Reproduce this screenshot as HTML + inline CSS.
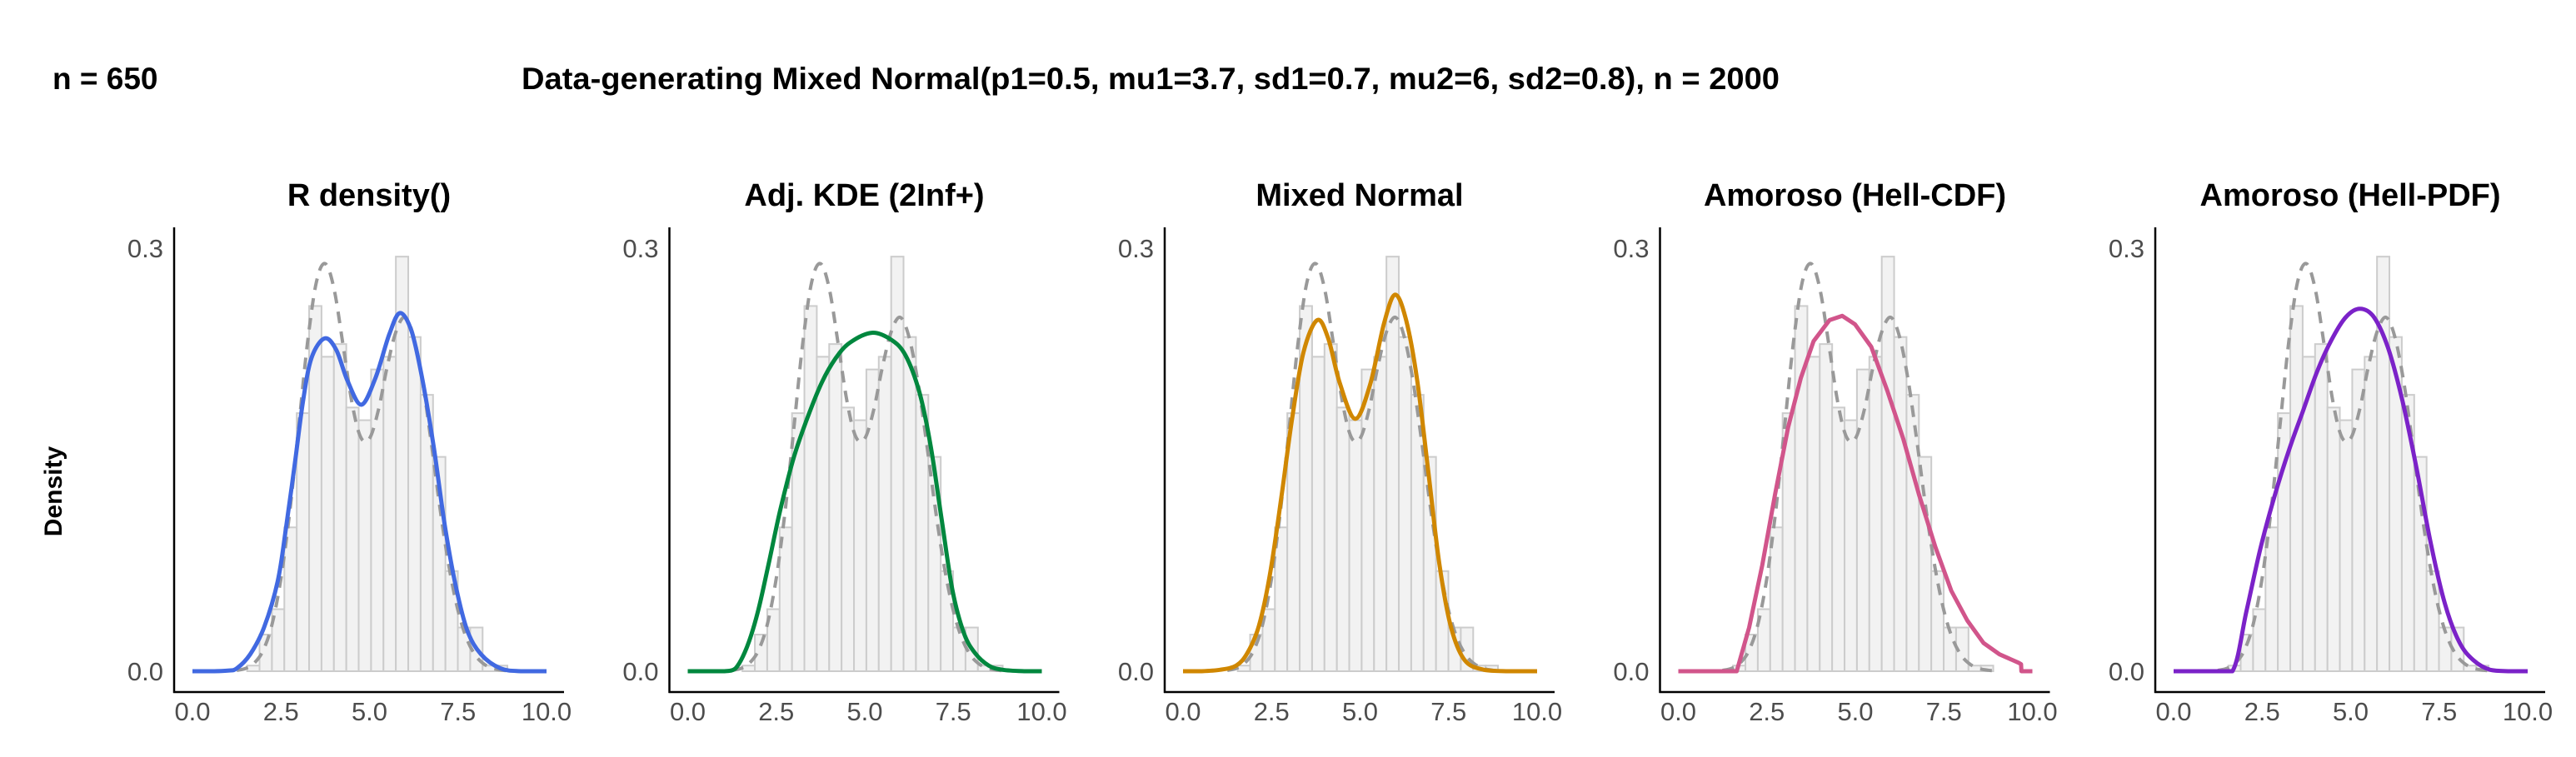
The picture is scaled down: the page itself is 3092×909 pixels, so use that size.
<!DOCTYPE html>
<html><head><meta charset="utf-8"><style>
html,body{margin:0;padding:0;background:#fff;}
svg{display:block;font-family:"Liberation Sans",Arial,sans-serif;}
</style></head><body>
<svg id="chart" width="3092" height="909" viewBox="0 0 3092 909" xmlns="http://www.w3.org/2000/svg">
<text x="63" y="107" font-size="37" font-weight="bold">n = 650</text>
<text x="626" y="107" font-size="37" font-weight="bold" textLength="1510" lengthAdjust="spacingAndGlyphs">Data-generating Mixed Normal(p1=0.5, mu1=3.7, sd1=0.7, mu2=6, sd2=0.8), n = 2000</text>
<text transform="translate(74,590) rotate(-90)" text-anchor="middle" font-size="30" font-weight="bold">Density</text>
<g id="panels"></g>
</svg>
<script>
// ---- data ----
const panelTitles = ["R density()", "Adj. KDE (2Inf+)", "Mixed Normal", "Amoroso (Hell-CDF)", "Amoroso (Hell-PDF)"];
const panelColors = ["#4169e1", "#00873e", "#d08700", "#d1558b", "#7b22c8"];
const xTicks = [0, 2.5, 5, 7.5, 10];
const xTickLabels = ["0.0", "2.5", "5.0", "7.5", "10.0"];
const yTicks = [0, 0.3];
const yTickLabels = ["0.0", "0.3"];
const binStart = 1.545;
const binWidth = 0.35;
const histDensity = [0.004,0.026,0.044,0.102,0.183,0.259,0.223,0.232,0.187,0.178,0.214,0.223,0.294,0.237,0.196,0.152,0.071,0.031,0.031,0.004,0.004];
const trueX = [1.25,1.5,1.75,2,2.25,2.5,2.75,3,3.25,3.5,3.75,4,4.25,4.5,4.75,5,5.25,5.5,5.75,6,6.25,6.5,6.75,7,7.25,7.5,7.75,8,8.25,8.5,8.75,9];
const trueY = [0.0006,0.002,0.0059,0.0149,0.0334,0.066,0.1135,0.173,0.233,0.276,0.289,0.271,0.232,0.191,0.166,0.165,0.185,0.216,0.241,0.251,0.237,0.205,0.161,0.114,0.0735,0.043,0.0228,0.011,0.0048,0.0019,0.0007,0.0002];
const kdeX = [0,0.5,1,1.25,1.63,2.02,2.41,2.65,2.89,3.12,3.36,3.73,4.06,4.38,4.77,5.17,5.56,5.86,6.19,6.5,6.82,7.13,7.44,7.76,8.15,8.7,9.3,10];
const kdeY = [0,0,0.0005,0.002,0.012,0.031,0.064,0.103,0.147,0.191,0.222,0.236,0.228,0.206,0.189,0.208,0.239,0.254,0.241,0.206,0.158,0.103,0.060,0.029,0.012,0.002,0,0];
const adjX = [0,0.5,1.04,1.35,1.67,1.98,2.3,2.61,3.0,3.4,3.79,4.18,4.58,5.2,5.75,6.15,6.54,6.86,7.17,7.48,7.8,8.11,8.5,8.9,9.5,10];
const adjY = [0,0,0,0.002,0.017,0.042,0.078,0.114,0.152,0.181,0.205,0.222,0.233,0.240,0.235,0.224,0.198,0.160,0.108,0.057,0.027,0.013,0.004,0.001,0,0];
const mixX = [0,0.5,1.04,1.5,1.82,2.14,2.45,2.77,3.08,3.4,3.79,4.1,4.42,4.86,5.28,5.68,5.99,6.3,6.61,6.93,7.24,7.56,7.95,8.5,9.2,10];
const mixY = [0,0,0.001,0.004,0.013,0.032,0.068,0.122,0.179,0.226,0.249,0.236,0.205,0.179,0.203,0.247,0.267,0.249,0.207,0.141,0.076,0.032,0.008,0.001,0,0];
const cdfX = [0,1.0,1.65,2.0,2.37,2.73,3.1,3.46,3.82,4.27,4.63,4.99,5.45,5.9,6.35,6.8,7.26,7.71,8.16,8.62,9.07,9.61,9.68,9.69,10];
const cdfY = [0,0,0,0.031,0.075,0.125,0.173,0.208,0.234,0.249,0.252,0.246,0.230,0.199,0.165,0.125,0.088,0.057,0.036,0.020,0.012,0.006,0.005,0,0];
const pdfX = [0,1.0,1.66,2.06,2.46,2.86,3.26,3.66,4.06,4.46,4.86,5.26,5.66,6.06,6.46,6.86,7.26,7.66,8.06,8.46,8.94,9.5,10];
const pdfY = [0,0,0,0.043,0.088,0.125,0.157,0.185,0.213,0.235,0.251,0.257,0.251,0.229,0.192,0.144,0.091,0.048,0.021,0.008,0.001,0,0];
const fitX = [kdeX, adjX, mixX, cdfX, pdfX];
const fitY = [kdeY, adjY, mixY, cdfY, pdfY];
const smoothFlags = [true, true, true, false, true];

// ---- layout ----
const NS = "http://www.w3.org/2000/svg";
const panelLeft0 = 209, panelStep = 594.5, panelW = 468;
const axisTop = 273, axisBottom = 831;
const x0px = 22, pxPerX = 42.5;
const y0px = 806, pxPerY = 1693.3;
function sx(p, v) { return panelLeft0 + p * panelStep + x0px + v * pxPerX; }
function sy(v) { return y0px - v * pxPerY; }
function mk(tag, attrs, parent) {
  const e = document.createElementNS(NS, tag);
  for (const k in attrs) e.setAttribute(k, attrs[k]);
  parent.appendChild(e);
  return e;
}
function pathFrom(xs, ys, p, smooth) {
  const pts = xs.map((x, i) => [sx(p, x), sy(ys[i])]);
  let d = "M" + pts[0][0].toFixed(1) + "," + pts[0][1].toFixed(1);
  for (let i = 0; i < pts.length - 1; i++) {
    if (!smooth) { d += " L" + pts[i+1][0].toFixed(1) + "," + pts[i+1][1].toFixed(1); continue; }
    const p0 = pts[Math.max(0, i-1)], p1 = pts[i], p2 = pts[i+1], p3 = pts[Math.min(pts.length-1, i+2)];
    const c1x = p1[0] + (p2[0]-p0[0])/6, c1y = p1[1] + (p2[1]-p0[1])/6;
    const c2x = p2[0] - (p3[0]-p1[0])/6, c2y = p2[1] - (p3[1]-p1[1])/6;
    d += " C" + c1x.toFixed(1) + "," + Math.min(c1y, y0px).toFixed(1) + " " + c2x.toFixed(1) + "," + Math.min(c2y, y0px).toFixed(1) + " " + p2[0].toFixed(1) + "," + p2[1].toFixed(1);
  }
  return d;
}
const root = document.getElementById("panels");
for (let p = 0; p < panelTitles.length; p++) {
  const g = mk("g", {}, root);
  
  
  const left = panelLeft0 + p * panelStep;
  const t = mk("text", {x: left + panelW/2, y: 247, "text-anchor": "middle", "font-size": 38, "font-weight": "bold"}, g);
  t.textContent = panelTitles[p];
  
  
  // histogram
  const hg = mk("g", {}, g);
  
  
  histDensity.forEach((h, i) => {
    const xa = sx(p, binStart + i * binWidth), xb = sx(p, binStart + (i+1) * binWidth);
    const r = mk("rect", {x: xa, y: sy(h), width: xb - xa, height: y0px - sy(h), fill: "#f2f2f2", stroke: "#cccccc", "stroke-width": 2}, hg);
    
    
  });
  // true density dashed
  const dl = mk("path", {d: pathFrom(trueX, trueY, p, true), fill: "none", stroke: "#999999", "stroke-width": 4, "stroke-dasharray": "14 10"}, g);
  
  
  // fitted
  const fl = mk("path", {d: pathFrom(fitX[p], fitY[p], p, smoothFlags[p]), fill: "none", stroke: panelColors[p], "stroke-width": 5, "stroke-linejoin": "round"}, g);
  
  
  // axes
  const ya = mk("line", {x1: left, y1: axisTop, x2: left, y2: axisBottom + 1, stroke: "#000", "stroke-width": 2.5}, g);
  
  
  const xa = mk("line", {x1: left - 1, y1: axisBottom, x2: left + panelW, y2: axisBottom, stroke: "#000", "stroke-width": 2.5}, g);
  
  
  xTicks.forEach((v, i) => {
    const tl = mk("text", {x: sx(p, v), y: 865, "text-anchor": "middle", "font-size": 31, fill: "#4d4d4d"}, g);
    tl.textContent = xTickLabels[i];
    
    
  });
  yTicks.forEach((v, i) => {
    const tl = mk("text", {x: left - 13, y: sy(v) + 11, "text-anchor": "end", "font-size": 31, fill: "#4d4d4d"}, g);
    tl.textContent = yTickLabels[i];
    
    
  });
}
</script>
</body></html>
